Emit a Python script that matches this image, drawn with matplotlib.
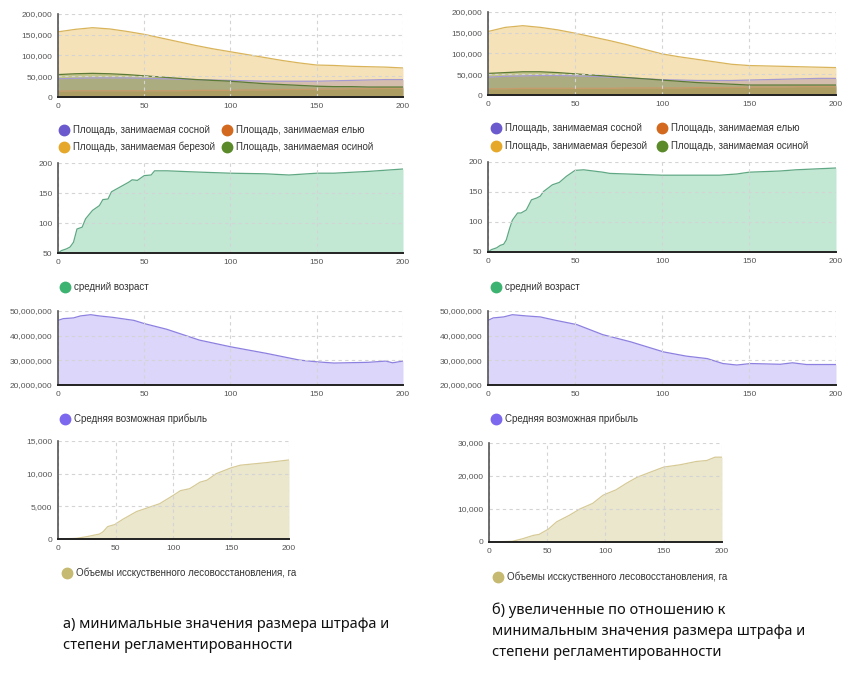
import matplotlib
matplotlib.use("Agg")
import matplotlib.pyplot as plt
from matplotlib.lines import Line2D
from matplotlib.ticker import FuncFormatter

W, H = 853, 684

years = [0, 10, 20, 30, 40, 50, 60, 70, 80, 90, 100, 110, 120, 130, 140, 150, 160, 170, 180, 190, 200]

# areas, thousands of ha (a = left, b = right)
pine_a = [44, 45, 46, 46, 46, 45, 44, 43, 42, 41, 40, 39, 38, 38, 38, 38, 39, 40, 41, 42, 42]
spruce_a = [14, 15, 15, 15, 15, 15, 15, 15, 16, 16, 16, 17, 17, 18, 18, 19, 19, 20, 20, 21, 21]
birch_a = [157, 163, 167, 164, 158, 151, 142, 133, 124, 116, 109, 102, 95, 88, 82, 77, 76, 74, 73, 72, 70]
aspen_a = [54, 56, 57, 56, 54, 51, 48, 45, 42, 40, 38, 35, 32, 30, 28, 26, 25, 25, 24, 24, 24]

pine_b = [43, 45, 46, 47, 47, 46, 45, 43, 41, 39, 37, 36, 35, 35, 35, 36, 37, 38, 39, 40, 40]
spruce_b = [15, 15, 16, 16, 16, 16, 16, 16, 17, 17, 17, 17, 18, 18, 18, 19, 19, 19, 20, 20, 20]
birch_b = [153, 163, 167, 163, 157, 149, 140, 131, 121, 110, 99, 92, 86, 80, 74, 71, 70, 69, 68, 67, 66]
aspen_b = [52, 54, 56, 56, 54, 51, 48, 45, 42, 39, 36, 33, 30, 28, 26, 24, 24, 24, 24, 24, 24]

# mean age
age_x_a = [0, 2, 5, 7, 9, 11, 14, 16, 20, 24, 26, 29, 31, 36, 41, 43, 46, 50, 54, 56, 63, 80, 100, 120, 134, 150, 160, 180, 200]
age_a = [50, 54, 57, 60, 68, 90, 93, 107, 121, 129, 139, 140, 152, 160, 168, 172, 171, 179, 180, 187, 187, 185, 183, 182, 180, 183, 183, 186, 190]
age_x_b = [0, 2, 5, 7, 9, 10.5, 12.5, 14, 17, 19, 22, 25, 28, 30, 32, 37, 41, 45, 50, 55, 66, 70, 100, 133, 143, 150, 168, 177, 200]
age_b = [50, 54, 57, 61, 63, 70, 90, 103, 115, 115, 120, 137, 140, 143, 151, 162, 166, 176, 186, 187, 183, 181, 178, 178, 180, 183, 185, 187, 190]

# profit, millions
profit_x_a = [0, 3, 9, 13, 19, 24, 32, 44, 50, 63, 82, 100, 121, 140, 150, 160, 180, 190, 194, 200]
profit_a = [46.2, 46.9, 47.2, 48.0, 48.5, 48.0, 47.4, 46.2, 44.9, 42.6, 38.2, 35.5, 32.8, 30.1, 29.4, 28.9, 29.2, 29.7, 29.0, 29.7]
profit_x_b = [0, 3, 9, 14, 22, 30, 39, 51, 66, 82, 101, 114, 126, 135, 143, 151, 168, 175, 183, 200]
profit_b = [46.2, 47.2, 47.6, 48.5, 48.0, 47.6, 46.2, 44.5, 40.4, 37.5, 33.4, 31.7, 30.7, 28.7, 28.1, 28.7, 28.4, 29.0, 28.3, 28.3]

# artificial reforestation, ha
refor_x_a = [0, 16, 25, 36, 39, 43, 49, 56, 68, 88, 100, 106, 114, 123, 129, 137, 150, 158, 181, 200]
refor_a = [0, 100, 360, 760, 1100, 1900, 2200, 3000, 4200, 5400, 6700, 7400, 7700, 8700, 9000, 10000, 10900, 11300, 11700, 12100]
refor_x_b = [0, 20, 29, 38, 43, 51, 58, 69, 78, 89, 98, 109, 118, 127, 138, 150, 164, 178, 187, 194, 200]
refor_b = [0, 200, 1000, 2000, 2300, 3900, 6100, 8100, 10000, 11700, 14200, 15800, 17800, 19600, 21100, 22700, 23400, 24400, 24700, 25700, 25700]

species_labels = ["Площадь, занимаемая сосной", "Площадь, занимаемая елью",
                  "Площадь, занимаемая березой", "Площадь, занимаемая осиной"]
species_colors = ["#6a5acd", "#d2691e", "#e6a82a", "#5b8a2a"]
species_lines = ["#a59ad0", "#c79a6a", "#d9b45a", "#5a7a35"]

caption_a = "а) минимальные значения размера штрафа и\nстепени регламентированности"
caption_b = "б) увеличенные по отношению к\nминимальным значения размера штрафа и\nстепени регламентированности"

fig = plt.figure(figsize=(W / 100, H / 100), dpi=100)
fig.patch.set_facecolor("white")


def px_axes(x0, y0, x1, y1):
    return fig.add_axes([x0 / W, 1 - y1 / H, (x1 - x0) / W, (y1 - y0) / H])


def style(ax, ylim, yticks):
    ax.set_xlim(0, 200)
    ax.set_ylim(*ylim)
    ax.set_xticks([0, 50, 100, 150, 200])
    ax.set_yticks(yticks)
    ax.yaxis.set_major_formatter(FuncFormatter(lambda v, p: f"{int(round(v)):,}"))
    ax.grid(True, color="#d4d4d4", linestyle=(0, (3, 3)), linewidth=0.8)
    ax.set_axisbelow(False)
    for s in ["top", "right"]:
        ax.spines[s].set_visible(False)
    ax.spines["left"].set_color("#555555")
    ax.spines["left"].set_linewidth(1.2)
    ax.spines["bottom"].set_color("#222222")
    ax.spines["bottom"].set_linewidth(1.4)
    for s in ["left", "bottom"]:
        ax.spines[s].set_zorder(4)
    ax.tick_params(length=0, labelsize=6, colors="#555555", pad=4)
    for lab in ax.get_xticklabels() + ax.get_yticklabels():
        lab.set_family("Liberation Sans")
    ax.set_facecolor("white")


def legend_item(x, y, color, text):
    fig.add_artist(Line2D([x / W], [1 - y / H], marker="o", markersize=7.5, linestyle="",
                          markerfacecolor=color, markeredgecolor=color, transform=fig.transFigure))
    fig.text((x + 9) / W, 1 - y / H, text, fontsize=7, color="#333333", va="center",
             family="Liberation Sans")


def species_panel(box, pine, spruce, birch, aspen, leg_x, leg_y):
    ax = px_axes(*box)
    for vals, fc, lc in zip([pine, spruce, birch, aspen], species_colors, species_lines):
        scaled = [v * 1000 for v in vals]
        ax.fill_between(years, 0, scaled, color=fc, alpha=0.33, linewidth=0)
        ax.plot(years, scaled, color=lc, linewidth=0.9)
    style(ax, (0, 200000), [0, 50000, 100000, 150000, 200000])
    for i, (lab, c) in enumerate(zip(species_labels, species_colors)):
        legend_item(leg_x[i % 2], leg_y[i // 2], c, lab)


def single_panel(box, x, y, base, ylim, yticks, fill, line, dot, label, leg):
    ax = px_axes(*box)
    ax.fill_between(x, base, y, color=fill, linewidth=0)
    ax.plot(x, y, color=line, linewidth=0.9)
    style(ax, ylim, yticks)
    legend_item(leg[0], leg[1], dot, label)


# left column
species_panel((58, 14, 403, 97), pine_a, spruce_a, birch_a, aspen_a, (64, 227), (130, 147))
single_panel((58, 163, 403, 253), age_x_a, age_a, 50, (50, 200), [50, 100, 150, 200],
             "#c2e8d4", "#5fa883", "#3cb371", "средний возраст", (65, 287))
single_panel((58, 311, 403, 385), profit_x_a, [v * 1e6 for v in profit_a], 20e6, (20e6, 50e6),
             [20e6, 30e6, 40e6, 50e6], "#dcd6fa", "#8c80e0", "#7b68ee",
             "Средняя возможная прибыль", (65, 419))
single_panel((58, 441, 289, 539), refor_x_a, refor_a, 0, (0, 15000), [0, 5000, 10000, 15000],
             "#ebe7cd", "#d6ca96", "#c6b971", "Объемы исскуственного лесовосстановления, га", (67, 573))

# right column
species_panel((488, 12, 836, 95), pine_b, spruce_b, birch_b, aspen_b, (496, 662), (128, 146))
single_panel((488, 162, 836, 252), age_x_b, age_b, 50, (50, 200), [50, 100, 150, 200],
             "#c2e8d4", "#5fa883", "#3cb371", "средний возраст", (496, 287))
single_panel((488, 311, 836, 385), profit_x_b, [v * 1e6 for v in profit_b], 20e6, (20e6, 50e6),
             [20e6, 30e6, 40e6, 50e6], "#dcd6fa", "#8c80e0", "#7b68ee",
             "Средняя возможная прибыль", (496, 419))
single_panel((489, 443, 722, 542), refor_x_b, refor_b, 0, (0, 30000), [0, 10000, 20000, 30000],
             "#ebe7cd", "#d6ca96", "#c6b971", "Объемы исскуственного лесовосстановления, га", (498, 577))

fig.text(63 / W, 1 - 617 / H, caption_a, fontsize=10.5, family="Noto Sans", color="#111111",
         va="top", linespacing=1.55)
fig.text(492 / W, 1 - 602 / H, caption_b, fontsize=10.5, family="Noto Sans", color="#111111",
         va="top", linespacing=1.55)

fig.savefig("out.png", dpi=100)
